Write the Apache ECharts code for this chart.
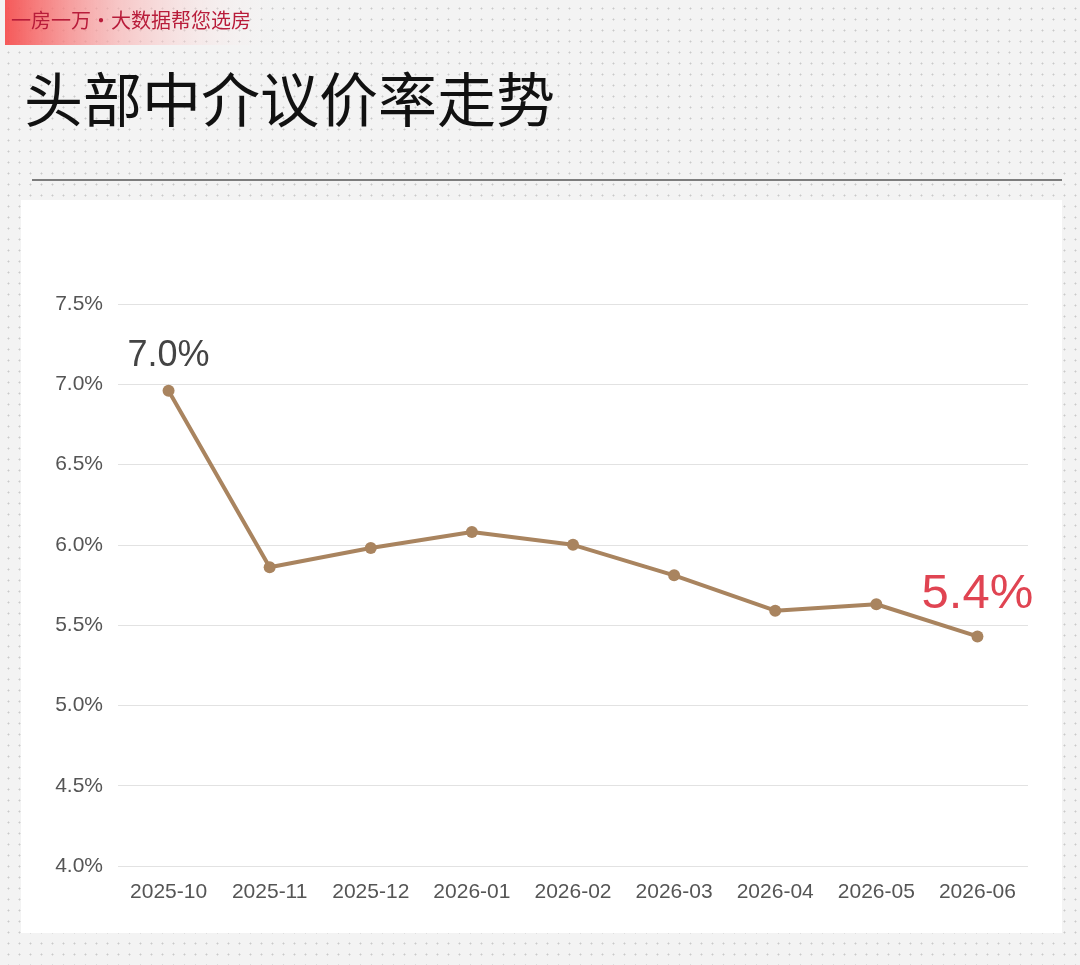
<!DOCTYPE html>
<html>
<head>
<meta charset="utf-8">
<script src="https://cdn.jsdelivr.net/npm/echarts@6/dist/echarts.min.js"></script>
<style>
html,body{margin:0;padding:0;width:1080px;height:965px;overflow:hidden;}
body{background-color:#f3f3f3;background-image:radial-gradient(#c9c9c9 0.8px, transparent 1.2px);background-size:11px 11px;background-position:3px 3px;}
#chart{width:1080px;height:965px;}
</style>
</head>
<body>
<div id="chart"></div>
<script>
const categories = ['2025-10','2025-11','2025-12','2026-01','2026-02','2026-03','2026-04','2026-05','2026-06'];
const rateValues = [6.96, 5.86, 5.98, 6.08, 6.00, 5.81, 5.59, 5.63, 5.43];
const yTicks = [4.0, 4.5, 5.0, 5.5, 6.0, 6.5, 7.0, 7.5];
const titleText = '头部中介议价率走势';
const badgeText = '一房一万·大数据帮您选房';

const chart = echarts.init(document.getElementById('chart'), null, {renderer:'canvas'});
const lastIdx = rateValues.length - 1;
const numFont = 'Liberation Sans, Noto Sans, sans-serif';
const seriesData = rateValues.map((v, i) => {
  const item = { value: v };
  if (i === 0) {
    item.label = { show: true, position: 'top', distance: 11, formatter: p => p.value.toFixed(1) + '%', color: '#444', fontSize: 36, fontFamily: numFont };
  } else if (i === lastIdx) {
    item.label = { show: true, position: 'top', distance: 11, formatter: p => p.value.toFixed(1) + '%', color: '#e04452', fontSize: 49, fontFamily: numFont };
  }
  return item;
});

chart.setOption({
  backgroundColor: 'transparent',
  animation: false,
  graphic: [
    { type: 'rect', left: 5, top: 0, shape: { width: 275, height: 45 }, z: -10,
      style: { fill: new echarts.graphic.LinearGradient(0, 0, 1, 0, [
        { offset: 0, color: 'rgba(245,80,80,0.95)' },
        { offset: 0.4, color: 'rgba(248,170,170,0.65)' },
        { offset: 1, color: 'rgba(255,255,255,0)' }]) } },
    { type: 'text', left: 11, top: 10, z: 10,
      style: { text: badgeText, fill: '#b81c3a', fontSize: 20, fontFamily: 'Noto Sans CJK SC, sans-serif' } },
    { type: 'text', left: 24, top: 70, z: 10,
      style: { text: titleText, fill: '#111', fontSize: 59, fontWeight: 'normal', fontFamily: 'Noto Sans CJK SC, sans-serif' } },
    { type: 'line', shape: { x1: 32, y1: 180, x2: 1062, y2: 180 }, z: 10,
      style: { stroke: '#555', lineWidth: 1.5 } },
    { type: 'rect', left: 21, top: 200, shape: { width: 1041, height: 733 }, z: -5,
      style: { fill: '#ffffff' } }
  ],
  grid: { left: 118, right: 52, top: 304, bottom: 99, containLabel: false },
  xAxis: {
    type: 'category',
    data: categories,
    boundaryGap: true,
    axisLine: { show: false },
    axisTick: { show: false },
    axisLabel: { interval: 0, color: '#555', fontSize: 21, margin: 16, fontFamily: numFont }
  },
  yAxis: {
    type: 'value',
    min: yTicks[0],
    max: yTicks[yTicks.length - 1],
    interval: 0.5,
    axisLine: { show: false },
    axisTick: { show: false },
    splitLine: { lineStyle: { color: '#e2e2e2', width: 1.2 } },
    axisLabel: { color: '#555', fontSize: 21, margin: 15, formatter: v => v.toFixed(1) + '%', fontFamily: numFont }
  },
  series: [{
    type: 'line',
    data: seriesData,
    symbol: 'circle',
    symbolSize: 12,
    itemStyle: { color: '#a9845f' },
    lineStyle: { color: '#a9845f', width: 4 },
    label: { show: false }
  }]
});
</script>
</body>
</html>
